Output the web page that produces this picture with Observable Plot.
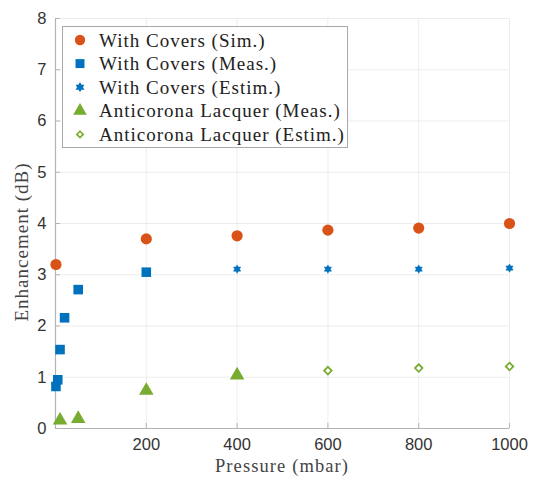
<!DOCTYPE html>
<html>
<head>
<meta charset="utf-8">
<script src="https://cdn.jsdelivr.net/npm/d3@7"></script>
<script src="https://cdn.jsdelivr.net/npm/@observablehq/plot@0.6"></script>
<style>
  html, body { margin: 0; padding: 0; background: white; }
  #wrap { position: relative; width: 534px; height: 482px; }
  #overlay { position: absolute; left: 0; top: 0; }
</style>
</head>
<body>
<div id="wrap"></div>
<script>
// ---- data ----
const xTicks = [200, 400, 600, 800, 1000];
const yTicks = [0, 1, 2, 3, 4, 5, 6, 7, 8];

const simX = [1, 200, 400, 600, 800, 1000];
const simY = [3.20, 3.70, 3.76, 3.87, 3.91, 4.00];

const measX = [1, 5, 10, 20, 50, 200];
const measY = [0.82, 0.95, 1.54, 2.16, 2.71, 3.05];

const estX = [400, 600, 800, 1000];
const estY = [3.11, 3.11, 3.11, 3.13];

const lacqMeasX = [10, 50, 200, 400];
const lacqMeasY = [0.16, 0.19, 0.74, 1.04];

const lacqEstX = [600, 800, 1000];
const lacqEstY = [1.13, 1.18, 1.21];

const seriesNames = [
  "With Covers (Sim.)",
  "With Covers (Meas.)",
  "With Covers (Estim.)",
  "Anticorona Lacquer (Meas.)",
  "Anticorona Lacquer (Estim.)"
];
const xLabel = "Pressure (mbar)";
const yLabel = "Enhancement (dB)";

// ---- styling ----
const orange = "#D95319", blue = "#0072BD", green = "#77AC30";
const serif = "'Liberation Serif', 'DejaVu Serif', serif";

// hexagram symbol (MATLAB 'h')
const hexagram = {
  draw(ctx, size) {
    const R = Math.sqrt(size) * 0.62;
    const r = R * 0.58;
    for (let i = 0; i < 12; i++) {
      const a = -Math.PI / 2 + i * Math.PI / 6;
      const rr = i % 2 === 0 ? R : r;
      const x = rr * Math.cos(a), y = rr * Math.sin(a);
      if (i === 0) ctx.moveTo(x, y); else ctx.lineTo(x, y);
    }
    ctx.closePath();
  }
};

const zip = (xs, ys) => xs.map((x, i) => ({x, y: ys[i]}));

const chart = Plot.plot({
  width: 534,
  height: 482,
  marginLeft: 55,
  marginRight: 25,
  marginTop: 18,
  marginBottom: 54,
  x: {domain: [0, 1000]},
  y: {domain: [0, 8]},
  style: {fontFamily: "'Liberation Sans', Arial, sans-serif", fontSize: "16.5px", color: "#333", background: "white"},
  marks: [
    Plot.gridX(xTicks, {stroke: "#000", strokeOpacity: 0.07, strokeWidth: 1}),
    Plot.gridY(yTicks.filter(d => d > 0), {stroke: "#000", strokeOpacity: 0.07, strokeWidth: 1}),
    Plot.ruleX([0], {stroke: "#b3b3b3", strokeWidth: 1.2}),
    Plot.ruleY([0], {stroke: "#b3b3b3", strokeWidth: 1.2}),
    Plot.ruleX(xTicks, {y1: 0, y2: 0.1, stroke: "#b3b3b3"}),
    Plot.ruleY(yTicks, {x1: 0, x2: 11, stroke: "#b3b3b3"}),
    Plot.axisX({ticks: xTicks, tickSize: 0, tickPadding: 10, tickFormat: d => String(d), label: null, fill: "#333"}),
    Plot.axisY({ticks: yTicks, tickSize: 0, tickPadding: 9, tickFormat: d => String(d), label: null, fill: "#333"}),
    Plot.dot(zip(simX, simY), {x: "x", y: "y", symbol: "circle", r: 5.6, fill: orange}),
    Plot.dot(zip(measX, measY), {x: "x", y: "y", symbol: "square", r: 5.4, fill: blue}),
    Plot.dot(zip(estX, estY), {x: "x", y: "y", symbol: hexagram, r: 3.8, fill: blue, stroke: blue, strokeWidth: 0.5}),
    Plot.dot(zip(lacqMeasX, lacqMeasY), {x: "x", y: "y", symbol: "triangle", r: 5.4, fill: green}),
    Plot.dot(zip(lacqEstX, lacqEstY), {x: "x", y: "y", symbol: "diamond2", r: 3.4, fill: "white", stroke: green, strokeWidth: 1.8})
  ]
});

const wrap = document.getElementById("wrap");
wrap.appendChild(chart);

// ---- overlay: axis titles and legend ----
const ov = d3.select(wrap).append("svg")
  .attr("id", "overlay").attr("width", 534).attr("height", 482)
  .style("pointer-events", "none");

ov.append("text").attr("x", 282).attr("y", 472).attr("text-anchor", "middle")
  .attr("font-family", serif).attr("font-size", 18.5).attr("letter-spacing", "1.1px")
  .attr("fill", "#444").text(xLabel);
ov.append("text").attr("transform", "translate(28,242) rotate(-90)").attr("text-anchor", "middle")
  .attr("font-family", serif).attr("font-size", 19).attr("letter-spacing", "1px")
  .attr("fill", "#444").text(yLabel);

const legendSymbols = [
  {type: d3.symbolCircle, size: 85, fill: orange, stroke: "none"},
  {type: d3.symbolSquare, size: 80, fill: blue, stroke: "none"},
  {type: hexagram, size: 32, fill: blue, stroke: blue},
  {type: d3.symbolTriangle, size: 80, fill: green, stroke: "none"},
  {type: d3.symbolDiamond2, size: 26, fill: "white", stroke: green}
];
ov.append("rect").attr("x", 62.5).attr("y", 26.5).attr("width", 285).attr("height", 121)
  .attr("fill", "white").attr("stroke", "#aaa").attr("stroke-width", 1);
const rowY = i => 40 + i * 23.6;
seriesNames.forEach((name, i) => {
  const s = legendSymbols[i];
  ov.append("path").attr("d", d3.symbol(s.type, s.size)())
    .attr("transform", `translate(80,${rowY(i)})`)
    .attr("fill", s.fill).attr("stroke", s.stroke).attr("stroke-width", 1.6);
  ov.append("text").attr("x", 99).attr("y", rowY(i)).attr("dy", "0.35em")
    .attr("font-family", serif).attr("font-size", 19).attr("letter-spacing", "1px")
    .attr("fill", "#222").text(name);
});
</script>
</body>
</html>
